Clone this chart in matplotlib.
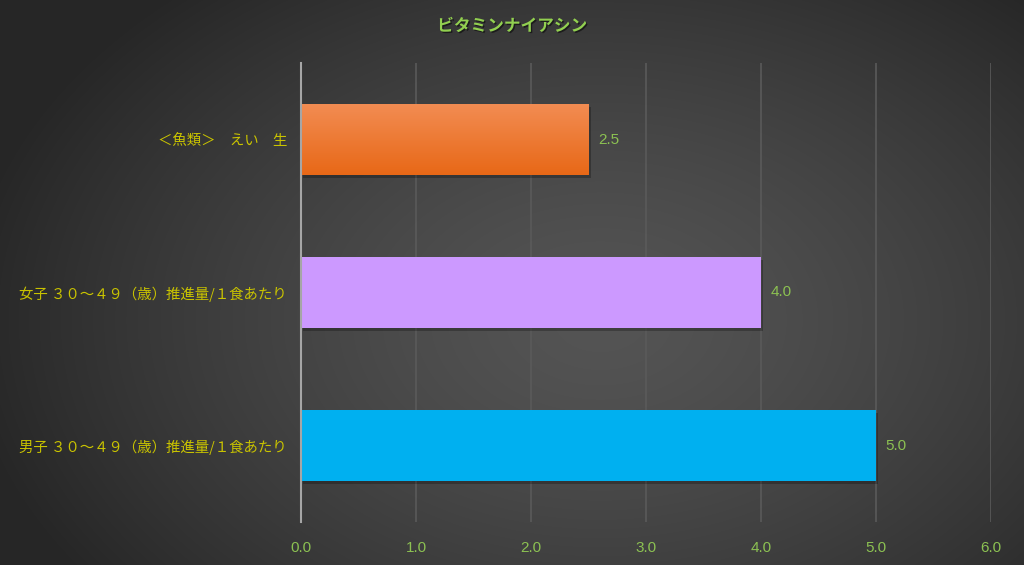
import numpy as np
import matplotlib
matplotlib.use("Agg")
import matplotlib.pyplot as plt
import matplotlib.patheffects as pe
from matplotlib.colors import LinearSegmentedColormap

# ---- data ----
categories = ["男子 ３０～４９（歳）推進量/１食あたり",
              "女子 ３０～４９（歳）推進量/１食あたり",
              "＜魚類＞　えい　生"]
values = [5.0, 4.0, 2.5]
bar_colors = ["#00B0F0", "#CC99FF", "#EE7A2E"]
x_ticks = [0.0, 1.0, 2.0, 3.0, 4.0, 5.0, 6.0]
title = "ビタミンナイアシン"

W, H = 1024, 565
fig = plt.figure(figsize=(W / 100, H / 100), dpi=100)

# background radial gradient
bg = fig.add_axes([0, 0, 1, 1], zorder=-10)
yy, xx = np.mgrid[0:H, 0:W]
cx, cy = 600, 320
r = np.sqrt(((xx - cx) / 640.0) ** 2 + ((yy - cy) / 440.0) ** 2)
r = np.clip(r, 0, 1)
val = 0.33 - 0.18 * r ** 1.4
bgimg = np.dstack([val, val, val])
bg.imshow(bgimg, extent=[0, W, 0, H], aspect="auto", origin="upper")
bg.set_axis_off()

ax = fig.add_axes([301 / W, 1 - 522 / H, 690 / W, 459 / H])
ax.patch.set_alpha(0)

jp = ["Noto Sans CJK JP", "DejaVu Sans"]

ypos = np.arange(len(categories))
bars = ax.barh(ypos, values, height=0.464, color=bar_colors, zorder=3,
               path_effects=[pe.SimplePatchShadow(offset=(1.5, -2), shadow_rgbFace="black", alpha=0.25),
                             pe.Normal()])

# orange gradient on the last bar
ob = bars[2]
cmap = LinearSegmentedColormap.from_list("og", ["#E86817", "#F28C52"])
grad = np.linspace(0, 1, 100).reshape(-1, 1)
im = ax.imshow(grad, cmap=cmap, aspect="auto", origin="lower",
               extent=[ob.get_x(), ob.get_x() + ob.get_width(), ob.get_y(), ob.get_y() + ob.get_height()],
               zorder=4)
im.set_clip_path(ob)

ax.set_xlim(0, 6)
ax.set_ylim(-0.5, 2.5)
ax.set_xticks(x_ticks)
ax.set_xticklabels([f"{t:.1f}" for t in x_ticks], color="#8CC152", fontsize=11,
                   family=["Liberation Sans", "DejaVu Sans"])
ax.set_yticks(ypos)
ax.set_yticklabels(categories, color="#C9C300", fontsize=10.4, family=jp)
ax.tick_params(axis="both", length=0)
ax.tick_params(axis="x", pad=14)
ax.tick_params(axis="y", pad=10)

ax.grid(axis="x", color="#5A5A5A", linewidth=1.2, zorder=0)
for s in ["top", "right", "bottom"]:
    ax.spines[s].set_visible(False)
ax.spines["left"].set_color("#A6A6A6")
ax.spines["left"].set_linewidth(1.5)
ax.spines["left"].set_zorder(5)

for b, v in zip(bars, values):
    ax.annotate(f"{v:.1f}", (v, b.get_y() + b.get_height() / 2), xytext=(7, 0),
                textcoords="offset points", va="center", ha="left", color="#8CC152",
                fontsize=11, family=["Liberation Sans", "DejaVu Sans"])

fig.text(0.5, 1 - 26 / H, title, ha="center", va="center", color="#92D050",
         fontsize=12, fontweight="bold", family=jp,
         path_effects=[pe.withSimplePatchShadow(offset=(1, -1), shadow_rgbFace="black", alpha=0.5)])

fig.savefig("out.png", dpi=100)
